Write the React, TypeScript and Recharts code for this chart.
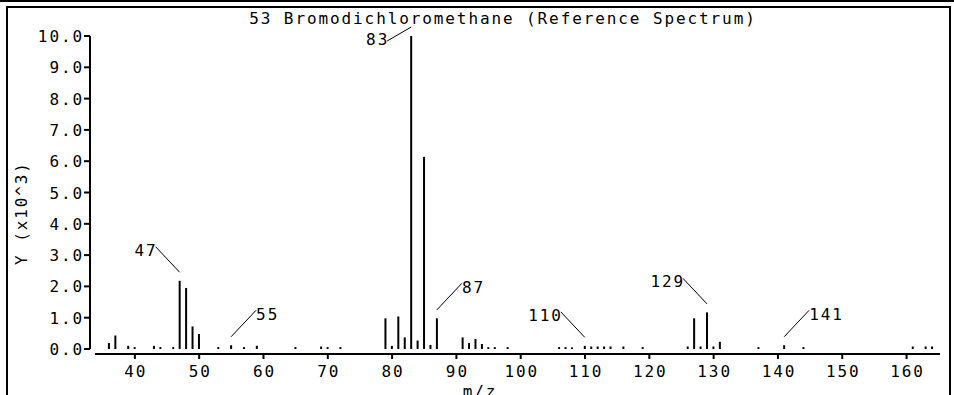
import { BarChart, Bar, XAxis, YAxis, LabelList } from "recharts";

// m/z of every peak and its abundance (x10^3)
const MZ = [36, 37, 39, 40, 43, 44, 46, 47, 48, 49, 50, 53, 55, 57, 59, 65, 69, 70, 72,
  79, 80, 81, 82, 83, 84, 85, 86, 87, 91, 92, 93, 94, 95, 96, 98,
  106, 107, 108, 110, 111, 112, 113, 114, 116, 119, 126, 127, 128, 129, 130, 131,
  137, 141, 144, 161, 163, 164];
const ABUNDANCE = [0.19, 0.43, 0.1, 0.06, 0.1, 0.06, 0.06, 2.18, 1.95, 0.72, 0.48, 0.06, 0.12, 0.06, 0.1, 0.06, 0.08, 0.06, 0.06,
  0.98, 0.1, 1.04, 0.37, 10.0, 0.27, 6.14, 0.13, 0.98, 0.37, 0.19, 0.32, 0.16, 0.06, 0.06, 0.06,
  0.06, 0.06, 0.05, 0.1, 0.08, 0.08, 0.08, 0.08, 0.08, 0.06, 0.08, 0.98, 0.08, 1.17, 0.08, 0.23,
  0.06, 0.12, 0.06, 0.08, 0.08, 0.08];

const LABELED = [47, 55, 83, 87, 110, 129, 141];
const X_TICKS = [40, 50, 60, 70, 80, 90, 100, 110, 120, 130, 140, 150, 160];
const Y_TICKS = [0, 1, 2, 3, 4, 5, 6, 7, 8, 9, 10];

const TITLE = "53 Bromodichloromethane (Reference Spectrum)";

const data = MZ.map((mz, i) => ({ mz, y: ABUNDANCE[i] }));

// which way the leader line of each labelled peak goes
const SIDE: Record<number, string> = { 47: "left", 55: "right", 83: "down", 87: "right", 110: "left", 129: "left", 141: "right" };

const FONT = "'DejaVu Sans Mono', monospace";
const txt = { fontFamily: FONT, fontSize: 16, letterSpacing: 1.9, fill: "#000" };

const PeakLabel = (props: any) => {
  const { x, y, width, value } = props;
  if (!LABELED.includes(value)) return null;
  const cx = Number(x) + Number(width) / 2;
  const top = Number(y);
  const side = SIDE[value];
  if (side === "down") {
    return (
      <g>
        <line x1={cx} y1={top - 9} x2={cx - 24} y2={top + 5} stroke="#000" strokeWidth={1} />
        <text x={cx - 24 + 2} y={top + 9} textAnchor="end" style={txt}>{value}</text>
      </g>
    );
  }
  if (side === "left") {
    return (
      <g>
        <line x1={cx} y1={top - 8.5} x2={cx - 24} y2={top - 34} stroke="#000" strokeWidth={1} />
        <text x={cx - 24 + 2} y={top - 25} textAnchor="end" style={txt}>{value}</text>
      </g>
    );
  }
  return (
    <g>
      <line x1={cx} y1={top - 8.5} x2={cx + 25} y2={top - 35} stroke="#000" strokeWidth={1} />
      <text x={cx + 25} y={top - 25} textAnchor="start" style={txt}>{value}</text>
    </g>
  );
};

const XTick = (p: any) => (
  <text x={p.x + 1} y={p.y + 21} textAnchor="middle" style={txt}>{p.payload.value}</text>
);

const YTick = (p: any) => (
  <text x={p.x - 3} y={p.y + 6} textAnchor="end" style={txt}>{Number(p.payload.value).toFixed(1)}</text>
);

export default function App() {
  return (
    <div style={{ position: "absolute", left: 0, top: 0, width: 954, height: 395, background: "#fff", overflow: "hidden" }}>
      <BarChart width={954} height={395} data={data} margin={{ top: 36, right: 14, bottom: 16, left: 35 }}>
        <XAxis
          dataKey="mz"
          type="number"
          domain={[33.8, 165.2]}
          allowDataOverflow
          ticks={X_TICKS}
          interval={0}
          height={30}
          tickSize={5}
          axisLine={{ stroke: "#000", strokeWidth: 2, transform: "translate(0,5)" }}
          tickLine={{ stroke: "#000", strokeWidth: 2, transform: "translate(0,5)" }}
          tick={<XTick />}
        />
        <YAxis
          type="number"
          domain={[0, 10]}
          ticks={Y_TICKS}
          interval={0}
          width={60}
          tickSize={6}
          axisLine={{ stroke: "#000", strokeWidth: 2, transform: "translate(-5,0)" }}
          tickLine={{ stroke: "#000", strokeWidth: 2, transform: "translate(-5,0)" }}
          tick={<YTick />}
        />
        <Bar dataKey="y" fill="#000" barSize={2} isAnimationActive={false}>
          <LabelList dataKey="mz" content={<PeakLabel />} />
        </Bar>
      </BarChart>
      <svg width={954} height={395} style={{ position: "absolute", left: 0, top: 0, pointerEvents: "none" }}>
        <rect x={0} y={0} width={954} height={2} fill="#000" />
        <rect x={6} y={6} width={945} height={2} fill="#000" />
        <rect x={6} y={6} width={2} height={389} fill="#000" />
        <rect x={949} y={6} width={2} height={389} fill="#000" />
        <text x={503} y={24} textAnchor="middle" style={txt}>{TITLE}</text>
        <text x={21} y={213} textAnchor="middle" dominantBaseline="central" transform="rotate(-90 21 213)" style={txt}>Y (x10^3)</text>
        <text x={480} y={397} textAnchor="middle" style={txt}>m/z</text>
      </svg>
    </div>
  );
}
